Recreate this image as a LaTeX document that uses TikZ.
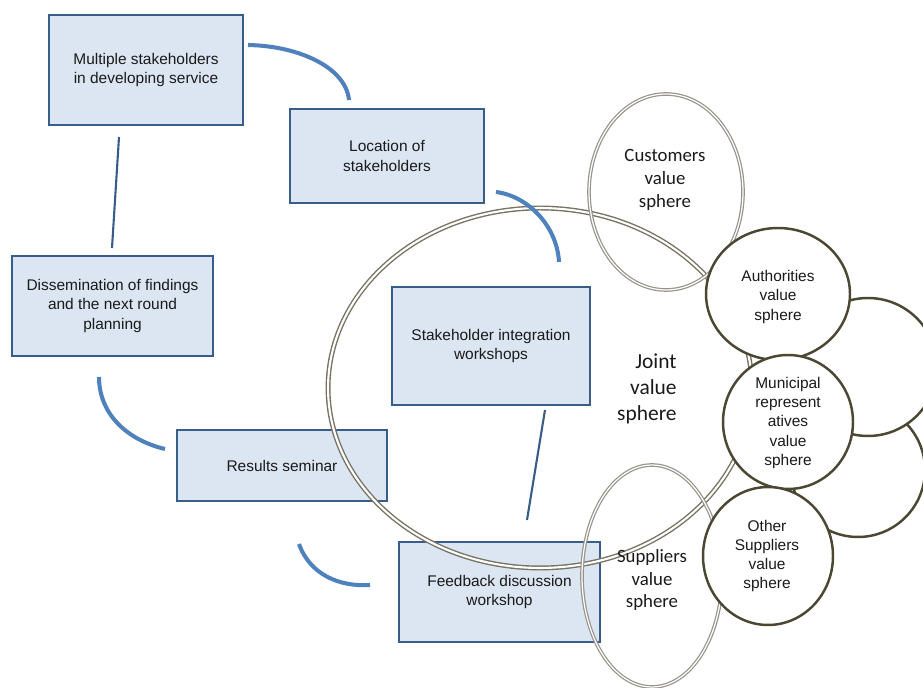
\documentclass[tikz,border=0pt]{standalone}
\usepackage{fontspec}
\setmainfont{Liberation Sans}
\newfontfamily\carlito{Carlito}
\usetikzlibrary{shapes.geometric}
\definecolor{boxfill}{HTML}{DCE6F2}
\definecolor{boxline}{HTML}{385D8A}
\definecolor{arcblue}{HTML}{4F81BD}
\definecolor{ringgray}{HTML}{767362}
\definecolor{palegray}{HTML}{96948A}
\definecolor{ringdark}{HTML}{4B4733}
\definecolor{txt}{HTML}{1A1A1A}
\tikzset{
  stage/.style={draw=boxline, fill=boxfill, line width=1.3pt, align=center,
    text=txt, font=\fontsize{8.8}{11}\selectfont, inner sep=0pt},
  arcline/.style={draw=arcblue, line width=2.3pt},
  link/.style={draw=boxline, line width=1.2pt},
  joint/.style={ellipse, draw=ringgray, double=white, double distance=1.2pt,
    line width=0.8pt, inner sep=0pt},
  outer/.style={ellipse, draw=palegray, double=white, double distance=0.7pt,
    line width=0.7pt, inner sep=0pt},
  party/.style={ellipse, draw=ringdark, fill=white, line width=1.4pt, inner sep=0pt},
  caltext/.style={align=center, text=txt, font=\carlito\fontsize{10.7}{13}\selectfont},
  arialtext/.style={align=center, text=txt, font=\fontsize{8.8}{11}\selectfont},
}
\begin{document}
\begin{tikzpicture}[x=0.02cm, y=-0.02cm]
  \useasboundingbox (0,0) rectangle (923,688);

  \node[stage, minimum width=3.88cm, minimum height=2.2cm] (multi) at (146,70)
    {Multiple stakeholders\\in developing service};
  \node[stage, minimum width=3.88cm, minimum height=1.88cm] (loc) at (387,156)
    {Location of\\stakeholders};
  \node[stage, minimum width=4.02cm, minimum height=2.0cm] (diss) at (112.5,306)
    {Dissemination of findings\\and the next round\\planning};
  \node[stage, minimum width=3.96cm, minimum height=2.36cm] (integ) at (491,346)
    {Stakeholder integration\\workshops};
  \node[stage, minimum width=4.2cm, minimum height=1.42cm] (results) at (282,465.5)
    {Results seminar};
  \node[stage, minimum width=4.02cm, minimum height=2.0cm] (feed) at (499.5,592)
    {Feedback discussion\\workshop};

  \node[joint, minimum width=8.48cm, minimum height=7.2cm] (jointsph) at (540,388) {};
  \node[outer, minimum width=3.08cm, minimum height=3.92cm] (custsph) at (666,192) {};
  \node[outer, minimum width=2.8cm, minimum height=4.44cm] (suppsph) at (652,576) {};
  \node[party, minimum width=2.68cm, minimum height=2.68cm] (lowsph) at (858,470) {};
  \node[party, minimum width=2.76cm, minimum height=2.76cm] (upsph) at (868,367) {};
  \node[party, minimum width=2.88cm, minimum height=2.64cm] (authsph) at (778,294) {};
  \node[party, minimum width=2.6cm, minimum height=2.68cm] (munisph) at (788,422) {};
  \node[party, minimum width=2.6cm, minimum height=2.76cm] (othersph) at (768,556) {};

  \node[caltext] (custtxt) at (665,180) {Customers\\value\\sphere};
  \node[caltext] (supptxt) at (652,580) {Suppliers\\value\\sphere};
  \node[caltext, align=right, anchor=east, inner sep=0pt,
    font=\carlito\fontsize{12.2}{14.7}\selectfont]
    (jointtxt) at (677,389) {Joint\\value\\sphere};
  \node[arialtext] (authtxt) at (778,297) {Authorities\\value\\sphere};
  \node[arialtext] (munitxt) at (788,423) {Municipal\\represent\\atives\\value\\sphere};
  \node[arialtext] (othertxt) at (767,556) {Other\\Suppliers\\value\\sphere};

  \coordinate (c1a) at (248,45);
  \coordinate (c1b) at (349,100);
  \coordinate (c2a) at (496,192);
  \coordinate (c2b) at (559,262);
  \coordinate (c3a) at (99,377);
  \coordinate (c3b) at (165,449);
  \coordinate (c4a) at (299,544);
  \coordinate (c4b) at (370,585);
  \coordinate (l1a) at (119,137);
  \coordinate (l1b) at (112,248);
  \coordinate (l2a) at (545,410);
  \coordinate (l2b) at (527,520);

  \draw[arcline] (c1a) .. controls (300,46) and (346,68) .. (c1b);
  \draw[arcline] (c2a) .. controls (528,196) and (557,226) .. (c2b);
  \draw[arcline] (c3a) .. controls (99,414) and (127,440) .. (c3b);
  \draw[arcline] (c4a) .. controls (310,575) and (340,587) .. (c4b);
  \draw[link] (l1a) -- (l1b);
  \draw[link] (l2a) -- (l2b);
\end{tikzpicture}
\end{document}
